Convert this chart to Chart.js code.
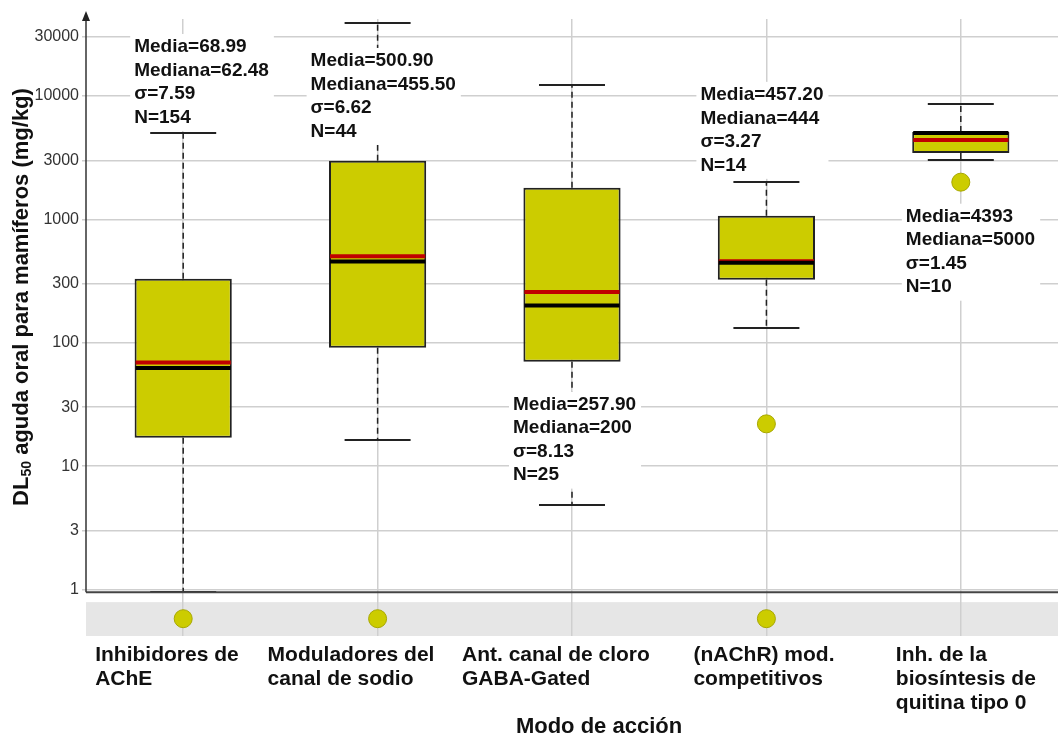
<!DOCTYPE html>
<html>
<head>
<meta charset="utf-8">
<script src="https://cdn.jsdelivr.net/npm/chart.js@4"></script>
<style>
  html, body { margin: 0; padding: 0; background: #fff; overflow: hidden; }
  #wrap { width: 1058px; height: 737px; position: relative; }
</style>
</head>
<body>
<div id="wrap"><canvas id="boxChart"></canvas></div>
<script>
// datos
const categories = ['Inhibidores de AChE', 'Moduladores del canal de sodio', 'Ant. canal de cloro GABA-Gated', '(nAChR) mod. competitivos', 'Inh. de la biosíntesis de quitina tipo 0'];
const categoryLines = [
    ['Inhibidores de', 'AChE'],
    ['Moduladores del', 'canal de sodio'],
    ['Ant. canal de cloro', 'GABA-Gated'],
    ['(nAChR) mod.', 'competitivos'],
    ['Inh. de la', 'biosíntesis de', 'quitina tipo 0']
];
const q1 = [17, 91, 70, 324, 3450];
const q3 = [330, 2980, 1800, 1070, 5100];
const medians = [62.48, 455.5, 200, 444, 5000];
const means = [68.99, 500.9, 257.9, 457.2, 4393];
const whiskerLow = [0.95, 16.4, 4.8, 132, 3000];
const whiskerHigh = [5000, 39000, 12300, 2000, 8600];
const mediaText = ['68.99', '500.90', '257.90', '457.20', '4393'];
const medianaText = ['62.48', '455.50', '200', '444', '5000'];
const sigmaText = ['7.59', '6.62', '8.13', '3.27', '1.45'];
const counts = [154, 44, 25, 14, 10];
// valores atípicos (0.58 = franja de valores < 1)
const outlierCat = [0, 1, 3, 3, 4];
const outlierVal = [0.58, 0.58, 0.58, 22, 2000];
const yTicks = [1, 3, 10, 30, 100, 300, 1000, 3000, 10000, 30000];

// posición de las etiquetas (desplazamiento x en px, valor y de la primera línea)
const labelAt = [[-49, 24900], [-67, 19200], [-59, 31.5], [-66, 10200], [-55, 1050]];
const catLabelDx = [-88, -110, -110, -73, -65];

const FONT = "'Liberation Sans', Arial, sans-serif";
const BOX_FILL = '#cccc00';

const boxPlugin = {
    id: 'boxPlugin',
    beforeDraw(chart) {
        const { ctx, chartArea, scales: { y } } = chart;
        ctx.save();
        ctx.fillStyle = '#fff';
        ctx.fillRect(0, 0, chart.width, chart.height);
        // franja gris para valores < 1
        const top = y.getPixelForValue(0.79);
        ctx.fillStyle = '#e6e6e6';
        ctx.fillRect(chartArea.left, top, chartArea.right - chartArea.left, chartArea.bottom - top);
        ctx.restore();
    },
    beforeDatasetsDraw(chart) {
        const { ctx, scales: { x, y } } = chart;
        ctx.save();
        ctx.strokeStyle = '#222';
        ctx.lineWidth = 1.5;
        categories.forEach((c, i) => {
            const px = x.getPixelForValue(i);
            ctx.setLineDash([6, 4]);
            ctx.beginPath();
            ctx.moveTo(px, y.getPixelForValue(q3[i]));
            ctx.lineTo(px, y.getPixelForValue(whiskerHigh[i]));
            ctx.moveTo(px, y.getPixelForValue(q1[i]));
            ctx.lineTo(px, y.getPixelForValue(whiskerLow[i]));
            ctx.stroke();
            ctx.setLineDash([]);
            ctx.lineWidth = 2;
            ctx.beginPath();
            [whiskerHigh[i], whiskerLow[i]].forEach(v => {
                const py = Math.round(y.getPixelForValue(v));
                ctx.moveTo(px - 33, py);
                ctx.lineTo(px + 33, py);
            });
            ctx.stroke();
            ctx.lineWidth = 1.5;
        });
        ctx.restore();
    },
    afterDatasetsDraw(chart) {
        const { ctx, chartArea, scales: { x, y } } = chart;
        ctx.save();
        const bars = chart.getDatasetMeta(0).data;
        // media (rojo) y mediana (negro)
        categories.forEach((c, i) => {
            const half = bars[i].width / 2 - 1;
            const px = x.getPixelForValue(i);
            ctx.lineWidth = 4;
            ctx.strokeStyle = '#c00000';
            ctx.beginPath();
            ctx.moveTo(px - half, y.getPixelForValue(means[i]));
            ctx.lineTo(px + half, y.getPixelForValue(means[i]));
            ctx.stroke();
            ctx.strokeStyle = '#000';
            ctx.beginPath();
            ctx.moveTo(px - half, y.getPixelForValue(medians[i]));
            ctx.lineTo(px + half, y.getPixelForValue(medians[i]));
            ctx.stroke();
        });

        // ejes
        const axisY = y.getPixelForValue(0.95);
        ctx.strokeStyle = '#444';
        ctx.lineWidth = 2;
        ctx.beginPath();
        ctx.moveTo(chartArea.left, axisY);
        ctx.lineTo(chartArea.right, axisY);
        ctx.stroke();
        ctx.strokeStyle = '#333';
        ctx.lineWidth = 1.5;
        ctx.beginPath();
        ctx.moveTo(chartArea.left, axisY);
        ctx.lineTo(chartArea.left, 18);
        ctx.stroke();
        ctx.fillStyle = '#222';
        ctx.beginPath();
        ctx.moveTo(chartArea.left, 11);
        ctx.lineTo(chartArea.left - 4, 21);
        ctx.lineTo(chartArea.left + 4, 21);
        ctx.closePath();
        ctx.fill();

        // etiquetas de estadísticos
        const lh = 23.5;
        ctx.font = 'bold 19px ' + FONT;
        ctx.textBaseline = 'middle';
        ctx.textAlign = 'left';
        categories.forEach((c, i) => {
            const lines = ['Media=' + mediaText[i], 'Mediana=' + medianaText[i], 'σ=' + sigmaText[i], 'N=' + counts[i]];
            const lx = x.getPixelForValue(i) + labelAt[i][0];
            const ly = y.getPixelForValue(labelAt[i][1]);
            const w = Math.max(...lines.map(t => ctx.measureText(t).width));
            ctx.fillStyle = '#fff';
            ctx.fillRect(lx - 4, ly - 13, w + 9, lh * 4 + 3);
            ctx.fillStyle = '#111';
            lines.forEach((t, k) => ctx.fillText(t, lx, ly + k * lh));
        });

        // etiquetas de categorías
        ctx.font = 'bold 21px ' + FONT;
        categoryLines.forEach((lines, i) => {
            const lx = x.getPixelForValue(i) + catLabelDx[i];
            lines.forEach((t, k) => ctx.fillText(t, lx, 655 + k * 24.3));
        });

        // títulos de ejes
        ctx.font = 'bold 22px ' + FONT;
        ctx.textAlign = 'center';
        ctx.fillText('Modo de acción', (chartArea.left + chartArea.right) / 2 + 27, 727);

        ctx.translate(22, 297);
        ctx.rotate(-Math.PI / 2);
        ctx.textAlign = 'left';
        const bigFont = 'bold 22px ' + FONT;
        const subFont = 'bold 14px ' + FONT;
        const rest = ' aguda oral para mamíferos (mg/kg)';
        ctx.font = bigFont;
        const wDL = ctx.measureText('DL').width;
        const wRest = ctx.measureText(rest).width;
        ctx.font = subFont;
        const wSub = ctx.measureText('50').width;
        let sx = -(wDL + wSub + wRest) / 2;
        ctx.font = bigFont;
        ctx.fillText('DL', sx, 0);
        sx += wDL;
        ctx.font = subFont;
        ctx.fillText('50', sx, 5);
        sx += wSub;
        ctx.font = bigFont;
        ctx.fillText(rest, sx, 0);
        ctx.restore();
    }
};

new Chart(document.getElementById('boxChart'), {
    type: 'bar',
    data: {
        labels: categories,
        datasets: [{
            label: 'caja',
            data: categories.map((c, i) => [q1[i], q3[i]]),
            backgroundColor: BOX_FILL,
            borderColor: '#222',
            borderWidth: 2,
            borderSkipped: false,
            barPercentage: 0.5,
            categoryPercentage: 1.0
        }, {
            type: 'line',
            label: 'atípicos',
            data: outlierCat.map((c, i) => ({ x: categories[c], y: outlierVal[i] })),
            showLine: false,
            pointRadius: 9,
            pointBackgroundColor: BOX_FILL,
            pointBorderColor: '#a8a800',
            pointBorderWidth: 1
        }]
    },
    options: {
        responsive: true,
        maintainAspectRatio: false,
        animation: false,
        layout: { autoPadding: false, padding: { top: 19, left: 0, right: 0, bottom: 0 } },
        plugins: {
            legend: { display: false },
            tooltip: { enabled: false }
        },
        scales: {
            x: {
                type: 'category',
                offset: true,
                grid: { offset: false, color: '#cfcfcf', lineWidth: 1.5, drawTicks: false },
                border: { display: false },
                ticks: { display: false },
                afterFit(scale) { scale.height = 101; }
            },
            y: {
                type: 'logarithmic',
                min: 0.42,
                max: 42000,
                afterBuildTicks(scale) { scale.ticks = yTicks.map(v => ({ value: v })); },
                afterFit(scale) { scale.width = 86; },
                grid: { color: '#cfcfcf', lineWidth: 1.5, tickLength: 4 },
                border: { display: false },
                ticks: {
                    color: '#333',
                    padding: 3,
                    font: { family: FONT, size: 16 },
                    callback: v => String(v)
                }
            }
        }
    },
    plugins: [boxPlugin]
});
</script>
</body>
</html>
